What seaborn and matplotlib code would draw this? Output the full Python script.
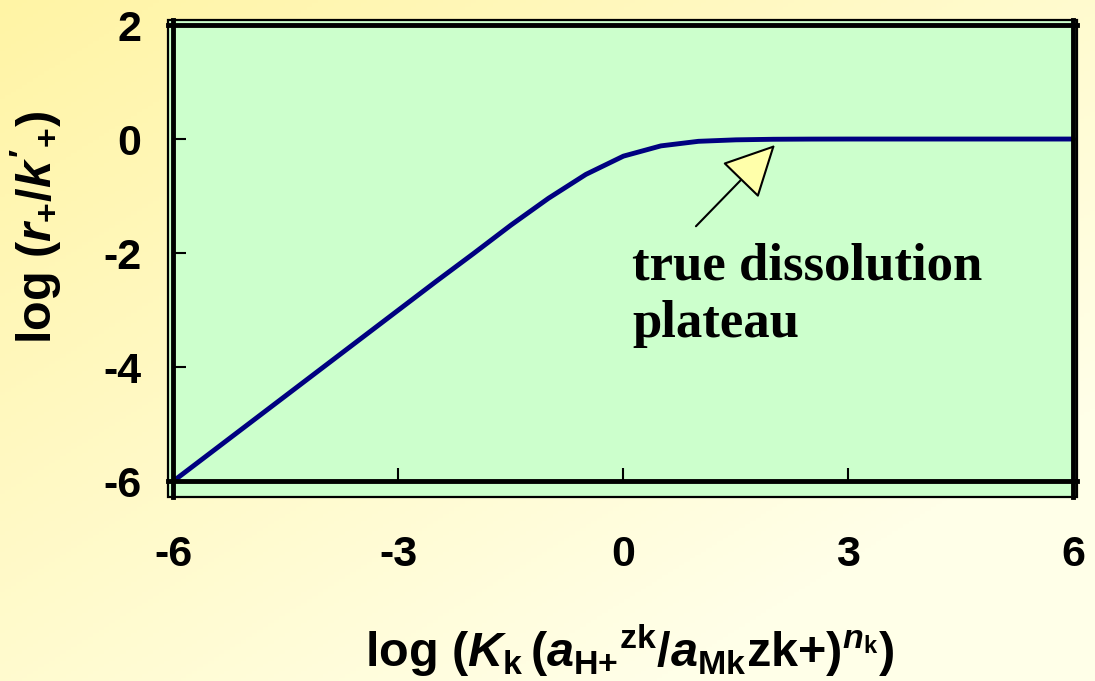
import numpy as np
import matplotlib
matplotlib.use('Agg')
import matplotlib.pyplot as plt
from matplotlib.patches import Rectangle
import seaborn as sns

# data
log_x = [-6, -5.5, -5, -4.5, -4, -3.5, -3, -2.5, -2, -1.5, -1, -0.5, 0,
         0.5, 1, 1.5, 2, 2.5, 3, 3.5, 4, 4.5, 5, 5.5, 6]
log_r = [-6, -5.5, -5, -4.5, -4, -3.5, -3, -2.5, -2.01, -1.51, -1.04, -0.62, -0.30,
         -0.12, -0.04, -0.014, -0.004, -0.001, 0, 0, 0, 0, 0, 0, 0]
x_ticks = [-6, -3, 0, 3, 6]
y_ticks = [-6, -4, -2, 0, 2]
note = 'true dissolution\nplateau'

sns.set_style('white')
plt.rcParams['font.family'] = ['Liberation Sans', 'DejaVu Sans']
plt.rcParams['font.weight'] = 'bold'
plt.rcParams['text.color'] = 'black'
plt.rcParams['axes.labelcolor'] = 'black'
plt.rcParams['xtick.color'] = 'black'
plt.rcParams['ytick.color'] = 'black'
plt.rcParams['axes.unicode_minus'] = False
plt.rcParams['mathtext.fontset'] = 'custom'
plt.rcParams['mathtext.rm'] = 'Liberation Sans:bold'
plt.rcParams['mathtext.bf'] = 'Liberation Sans:bold'
plt.rcParams['mathtext.it'] = 'Liberation Sans:bold:italic'

fig = plt.figure(figsize=(10.95, 6.81), dpi=100)

# yellow gradient background
bg = fig.add_axes([0, 0, 1, 1], zorder=-5)
gx, gy = np.meshgrid(np.linspace(0, 1, 200), np.linspace(0, 1, 200))
t = np.clip((gx + gy) / 1.6, 0, 1)
c0 = np.array([255, 244, 165]) / 255
c1 = np.array([255, 255, 232]) / 255
img = c0[None, None, :] * (1 - t[..., None]) + c1[None, None, :] * t[..., None]
bg.imshow(img, aspect='auto', extent=[0, 1, 0, 1], origin='upper')
bg.axis('off')

ax = fig.add_axes([0.1534, 0.2702, 0.8301, 0.7004])
ax.set_facecolor('#CCFFCC')

sns.lineplot(x=log_x, y=log_r, ax=ax, color='#000080', lw=3.5, zorder=3)

ax.set_xlim(-6.073, 6.047)
ax.set_ylim(-6.28, 2.088)
ax.set_xticks(x_ticks)
ax.set_yticks(y_ticks)

for side, pos in [('left', -6), ('bottom', -6), ('right', 6), ('top', 2)]:
    ax.spines[side].set_position(('data', pos))
    ax.spines[side].set_linewidth(3.5)
    ax.spines[side].set_color('black')
    ax.spines[side].set_zorder(4)

ax.add_patch(Rectangle((0, 0), 1, 1, transform=ax.transAxes, fill=False,
                       ec='black', lw=1.6, zorder=5, clip_on=False))

ax.tick_params(axis='x', direction='in', length=9.5, width=1.5, color='black',
               pad=39, labelsize=31, bottom=True, top=False)
ax.tick_params(axis='y', direction='in', length=9.5, width=1.5, color='black',
               pad=23, labelsize=31, left=True, right=False)
for lab in ax.get_xticklabels() + ax.get_yticklabels():
    lab.set_fontweight('bold')

ax.set_xlabel(r'log ($K_{\rm k}\,({a_{\text{H+}}}^{\rm zk}/a_{\rm Mk}\text{zk+})^{n_{\rm k}}$)',
              fontsize=35, fontweight='bold')
ax.xaxis.set_label_coords(0.508, -0.262)
ax.set_ylabel(r"log ($r_{+}/k'_{+}$)", fontsize=35, fontweight='bold')
ax.yaxis.set_label_coords(-0.114, 0.565)

ax.text(0.12, -1.82, note, fontsize=38, fontweight='bold', va='top', ha='left',
        family=['Liberation Serif', 'DejaVu Serif'], linespacing=1.25, zorder=6)
ax.annotate('', xy=(2.02, -0.105), xytext=(0.967, -1.53),
            arrowprops=dict(arrowstyle='-|>,head_length=1.65,head_width=0.83',
                            mutation_scale=20, fc='#FFFFAA', ec='black', lw=1.5,
                            shrinkA=0, shrinkB=0),
            zorder=6)

fig.savefig('out.png', dpi=100)
